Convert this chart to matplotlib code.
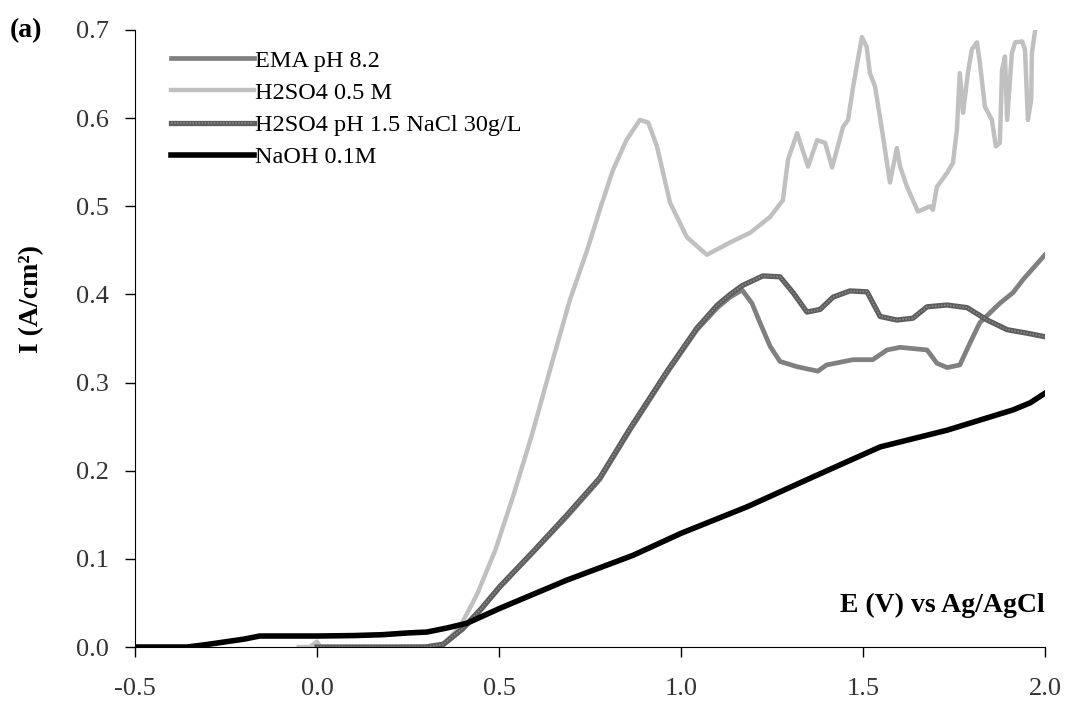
"""Polarisation curves (I vs E) for four electrolytes, Excel-style grey lines."""
import matplotlib
matplotlib.use("Agg")
import matplotlib.pyplot as plt
from matplotlib.lines import Line2D
from matplotlib.legend_handler import HandlerTuple

plt.rcParams["font.family"] = ["Liberation Serif", "DejaVu Serif"]

# Data.
E_ema = [0.30, 0.346, 0.40, 0.45, 0.503, 0.593, 0.687, 0.777, 0.86, 0.962, 1.044, 1.1,
         1.135, 1.168, 1.195, 1.217, 1.245, 1.272, 1.319, 1.376, 1.40, 1.473, 1.527, 1.566,
         1.602, 1.676, 1.703, 1.731, 1.766, 1.794, 1.821, 1.876, 1.912, 1.94, 2.0]
I_ema = [0.0, 0.002, 0.02, 0.042, 0.068, 0.107, 0.148, 0.19, 0.246, 0.311, 0.36, 0.385,
         0.397, 0.405, 0.39, 0.368, 0.341, 0.324, 0.318, 0.313, 0.32, 0.326, 0.326, 0.337,
         0.34, 0.337, 0.322, 0.317, 0.32, 0.345, 0.368, 0.39, 0.402, 0.417, 0.445]

E_h2so4 = [-0.05, -0.02, 0.0, 0.01, 0.1, 0.2, 0.3, 0.35, 0.393, 0.44, 0.49, 0.538, 0.59,
           0.648, 0.695, 0.742, 0.78, 0.813, 0.85, 0.887, 0.91, 0.934, 0.97, 1.016, 1.071,
           1.135, 1.19, 1.245, 1.28, 1.294, 1.319, 1.349, 1.374, 1.396, 1.415, 1.431, 1.445,
           1.459, 1.473, 1.497, 1.51, 1.519, 1.533, 1.552, 1.574, 1.593, 1.602, 1.621, 1.651,
           1.684, 1.692, 1.703, 1.731, 1.747, 1.758, 1.766, 1.775, 1.788, 1.799, 1.813, 1.821,
           1.835, 1.854, 1.865, 1.876, 1.882, 1.890, 1.896, 1.909, 1.918, 1.937, 1.945, 1.953,
           1.962, 1.964, 1.973]
I_h2so4 = [0.0, 0.0, 0.006, 0.0, 0.0, 0.0, 0.001, 0.004, 0.023, 0.06, 0.11, 0.17, 0.24,
           0.326, 0.394, 0.45, 0.50, 0.541, 0.575, 0.598, 0.595, 0.568, 0.504, 0.465, 0.445,
           0.459, 0.47, 0.488, 0.507, 0.553, 0.583, 0.545, 0.575, 0.572, 0.544, 0.568, 0.59,
           0.598, 0.636, 0.692, 0.681, 0.651, 0.636, 0.587, 0.527, 0.566, 0.545, 0.522, 0.494,
           0.5, 0.496, 0.522, 0.538, 0.549, 0.587, 0.651, 0.606, 0.651, 0.678, 0.686, 0.663,
           0.613, 0.598, 0.568, 0.572, 0.655, 0.67, 0.598, 0.674, 0.686, 0.687, 0.678, 0.598,
           0.621, 0.674, 0.700]

E_nacl = [0.0, 0.1, 0.2, 0.3, 0.346, 0.40, 0.45, 0.503, 0.593, 0.687, 0.777, 0.86, 0.962,
          1.044, 1.1, 1.135, 1.168, 1.225, 1.272, 1.308, 1.346, 1.382, 1.418, 1.464, 1.511,
          1.547, 1.593, 1.637, 1.676, 1.731, 1.786, 1.841, 1.896, 1.951, 2.0]
I_nacl = [0.0, 0.0, 0.0, 0.0, 0.003, 0.021, 0.043, 0.069, 0.108, 0.15, 0.192, 0.248, 0.313,
          0.362, 0.388, 0.40, 0.41, 0.421, 0.42, 0.402, 0.38, 0.383, 0.397, 0.404, 0.403,
          0.375, 0.371, 0.373, 0.386, 0.388, 0.385, 0.371, 0.36, 0.356, 0.352]

E_naoh = [-0.5, -0.4, -0.357, -0.3, -0.25, -0.2, -0.157, -0.1, 0.0, 0.1, 0.18, 0.25, 0.302,
          0.357, 0.412, 0.503, 0.687, 0.868, 1.0, 1.181, 1.363, 1.547, 1.731, 1.912, 1.959, 2.0]
I_naoh = [0.0, 0.0, 0.0, 0.003, 0.006, 0.009, 0.0125, 0.0125, 0.0125, 0.013, 0.014, 0.016,
          0.017, 0.0216, 0.027, 0.044, 0.076, 0.104, 0.129, 0.159, 0.193, 0.227, 0.246, 0.269,
          0.277, 0.288]

LABELS = ["EMA pH 8.2", "H2SO4 0.5 M", "H2SO4 pH 1.5 NaCl 30g/L", "NaOH 0.1M"]
X_TICKS = [-0.5, 0.0, 0.5, 1.0, 1.5, 2.0]
Y_TICKS = [0.0, 0.1, 0.2, 0.3, 0.4, 0.5, 0.6, 0.7]

C_EMA = "#808080"
C_H2SO4 = "#c0c0c0"
C_NACL = "#5e5e5e"
C_NACL_DOT = "#8c8c8c"
LW_EMA, LW_H2SO4, LW_NACL, LW_NAOH = 3.4, 3.2, 3.8, 4.0
NACL_DOTS = (0, (1, 1))

fig = plt.figure(figsize=(10.77, 7.09), dpi=100)
ax = fig.add_axes([0.1253, 0.0874, 0.845, 0.8703])

ax.plot(E_h2so4, I_h2so4, color=C_H2SO4, lw=LW_H2SO4, solid_joinstyle="round")
ax.plot(E_ema, I_ema, color=C_EMA, lw=LW_EMA, solid_joinstyle="round")
ax.plot(E_nacl, I_nacl, color=C_NACL, lw=LW_NACL, solid_joinstyle="round")
ax.plot(E_nacl, I_nacl, color=C_NACL_DOT, lw=1.1, ls=NACL_DOTS)
ax.plot(E_naoh, I_naoh, color="black", lw=LW_NAOH, solid_joinstyle="round")

ax.set_xlim(-0.5, 2.0)
ax.set_ylim(0.0, 0.7)
ax.set_xticks(X_TICKS)
ax.set_yticks(Y_TICKS)
ax.set_xticklabels([f"{v:.1f}" for v in X_TICKS])
ax.set_yticklabels([f"{v:.1f}" for v in Y_TICKS])
ax.tick_params(direction="out", length=7, width=1.0, labelsize=19, colors="black")
ax.tick_params(axis="x", pad=15)
ax.tick_params(axis="y", pad=12)
for lbl in ax.get_xticklabels() + ax.get_yticklabels():
    lbl.set_color("#333333")
ax.spines["top"].set_visible(False)
ax.spines["right"].set_visible(False)

# Axis labels sit inside / beside the axes, as in the original.
ax.text(2.0, 0.047, "E (V) vs Ag/AgCl", ha="right", va="center",
        fontsize=20, fontweight="bold")
fig.text(0.029, 0.578, "I (A/cm²)", rotation=90, ha="center", va="center",
         fontsize=20, fontweight="bold")
fig.text(0.009, 0.957, "(a)", ha="left", va="center", fontsize=20, fontweight="bold")

# Legend.
h_ema = Line2D([], [], color=C_EMA, lw=LW_EMA)
h_h2so4 = Line2D([], [], color=C_H2SO4, lw=LW_H2SO4)
h_nacl = (Line2D([], [], color=C_NACL, lw=LW_NACL),
          Line2D([], [], color=C_NACL_DOT, lw=1.1, ls=NACL_DOTS))
h_naoh = Line2D([], [], color="black", lw=LW_NAOH)
legend = ax.legend(
    [h_ema, h_h2so4, h_nacl, h_naoh], LABELS,
    handler_map={tuple: HandlerTuple(ndivide=1, pad=0)},
    loc="upper left",
    bbox_to_anchor=(0.04, 0.968),
    frameon=False,
    fontsize=17.5,
    handlelength=3.4,
    handletextpad=0.05,
    labelspacing=0.42,
    borderaxespad=0,
    borderpad=0,
)

fig.savefig("out.png", dpi=100)
